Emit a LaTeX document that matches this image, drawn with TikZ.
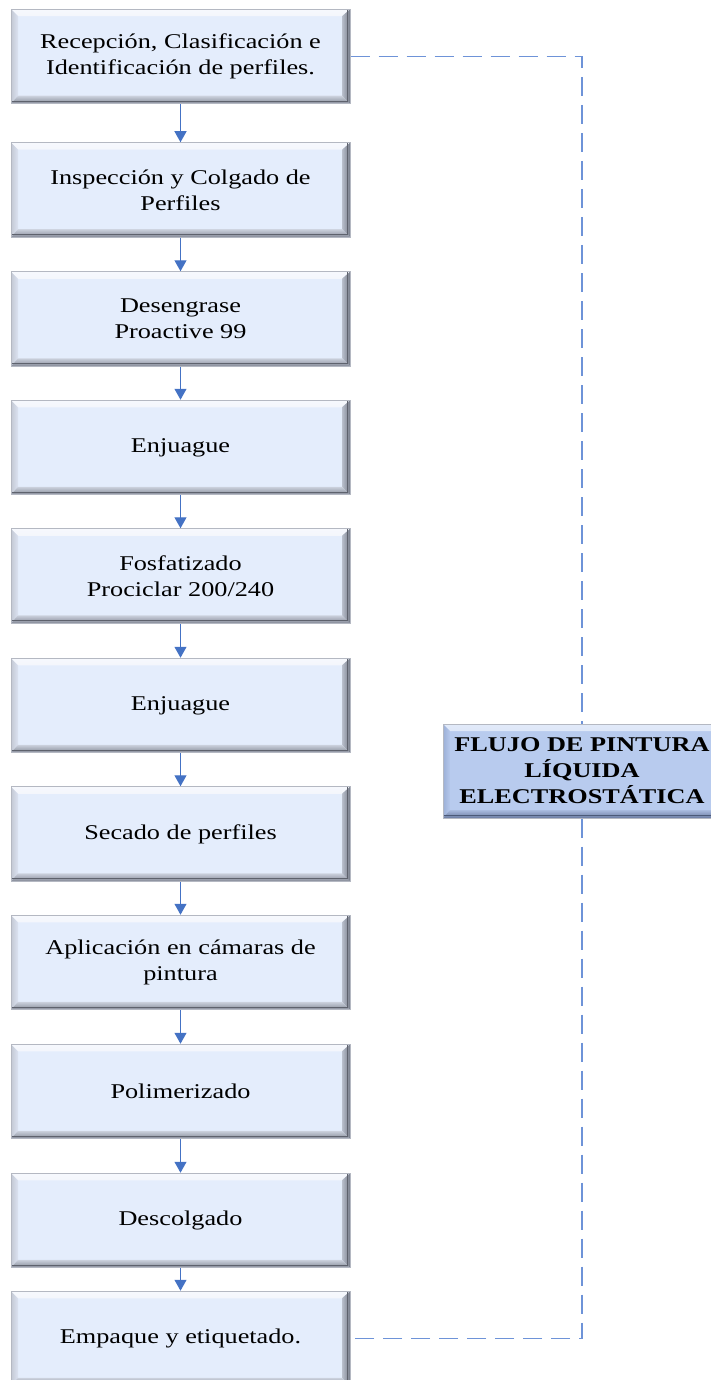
\documentclass[tikz,border=0pt]{standalone}
\usepackage{fontspec}
\setmainfont{Liberation Serif}[FakeStretch=1.25]
\usetikzlibrary{arrows.meta}
\definecolor{boxfill}{HTML}{E4EDFC}
\definecolor{titlefill}{HTML}{B8CBEE}
\definecolor{edgegrey}{HTML}{B4B8C2}
\definecolor{linkblue}{HTML}{4472C4}
\definecolor{dashblue}{HTML}{6E93D8}
% bevel colours: top, left, right, bottom (outer / inner)
\definecolor{topout}{HTML}{F6F8FD}\definecolor{topin}{HTML}{D6DFEF}
\definecolor{leftout}{HTML}{C3C8D4}\definecolor{leftin}{HTML}{DCE3F1}
\definecolor{rightin}{HTML}{B9BFCC}\definecolor{rightout}{HTML}{767B88}
\definecolor{botin}{HTML}{CCD2DE}\definecolor{botout}{HTML}{858A97}
\definecolor{ttopout}{HTML}{E2EAF9}\definecolor{ttopin}{HTML}{B2C5EA}
\definecolor{tleftout}{HTML}{9CB0D7}\definecolor{tleftin}{HTML}{B6C8EC}
\definecolor{trightin}{HTML}{A3B6DC}\definecolor{trightout}{HTML}{5F7096}
\definecolor{tbotin}{HTML}{A9BBDF}\definecolor{tbotout}{HTML}{6B7CA2}
\tikzset{
  bevel/.style n args={8}{path picture={
    \def\pb{path picture bounding box}
    \shade[top color=#1, bottom color=#2] (\pb.north west) -- (\pb.north east) -- ([xshift=-8pt,yshift=-7pt]\pb.north east) -- ([xshift=7pt,yshift=-7pt]\pb.north west) -- cycle;
    \shade[left color=#3, right color=#4] (\pb.north west) -- ([xshift=7pt,yshift=-7pt]\pb.north west) -- ([xshift=7pt,yshift=8pt]\pb.south west) -- (\pb.south west) -- cycle;
    \shade[left color=#5, right color=#6] (\pb.north east) -- ([xshift=-8pt,yshift=-7pt]\pb.north east) -- ([xshift=-8pt,yshift=8pt]\pb.south east) -- (\pb.south east) -- cycle;
    \shade[top color=#7, bottom color=#8] (\pb.south west) -- ([xshift=7pt,yshift=8pt]\pb.south west) -- ([xshift=-8pt,yshift=8pt]\pb.south east) -- (\pb.south east) -- cycle;
    \draw[#6!80!black, line width=1pt] ([xshift=-2.5pt]\pb.north east) -- ([xshift=-2.5pt,yshift=2.5pt]\pb.south east) -- ([xshift=1pt,yshift=2.5pt]\pb.south west);
  }},
  stepbox/.style={rectangle, minimum width=339pt, minimum height=94.5pt, inner sep=0pt, align=center,
    fill=boxfill, draw=edgegrey, line width=1pt,
    bevel={topout}{topin}{leftout}{leftin}{rightin}{rightout}{botin}{botout}},
  titlebox/.style={rectangle, minimum width=278pt, minimum height=94pt, inner sep=0pt, align=center,
    fill=titlefill, draw=edgegrey, line width=1pt, font=\fontsize{21}{26}\selectfont\bfseries,
    bevel={ttopout}{ttopin}{tleftout}{tleftin}{trightin}{trightout}{tbotin}{tbotout}},
  flecha/.style={linkblue, line width=1.2pt, -{Triangle[width=12pt,length=11pt]}},
  dashline/.style={dashblue, line width=1.2pt, dash pattern=on 19pt off 9pt}
}
\begin{document}
\begin{tikzpicture}[x=1pt, y=-1pt, font=\fontsize{21}{26}\selectfont]
\useasboundingbox (0,0) rectangle (710,1380);
\node[stepbox] (b1) at (180.5,56.5) {Recepción, Clasificación e\\Identificación de perfiles.};
\node[stepbox] (b2) at (180.5,190) {Inspección y Colgado de\\Perfiles};
\node[stepbox] (b3) at (180.5,319) {Desengrase\\Proactive 99};
\node[stepbox] (b4) at (180.5,447.5) {Enjuague};
\node[stepbox] (b5) at (180.5,576) {Fosfatizado\\Prociclar 200/240};
\node[stepbox] (b6) at (180.5,705.5) {Enjuague};
\node[stepbox] (b7) at (180.5,834) {Secado de perfiles};
\node[stepbox] (b8) at (180.5,962.5) {Aplicación en cámaras de\\pintura};
\node[stepbox] (b9) at (180.5,1091.5) {Polimerizado};
\node[stepbox] (b10) at (180.5,1220.5) {Descolgado};
\node[stepbox] (b11) at (180.5,1338.5) {Empaque y etiquetado.};
\node[titlebox] (flujo) at (582,771) {FLUJO DE PINTURA\\LÍQUIDA\\ELECTROSTÁTICA};
\foreach \a/\b in {b1/b2,b2/b3,b3/b4,b4/b5,b5/b6,b6/b7,b7/b8,b8/b9,b9/b10,b10/b11}
  \draw[flecha] (\a) -- (\b);
\draw[dashline] (b1.east) -- (b1.east -| flujo) -- (flujo.north);
\draw[dashline] (flujo.south) -- (flujo.south |- b11.east) -- (b11.east);
\end{tikzpicture}
\end{document}
